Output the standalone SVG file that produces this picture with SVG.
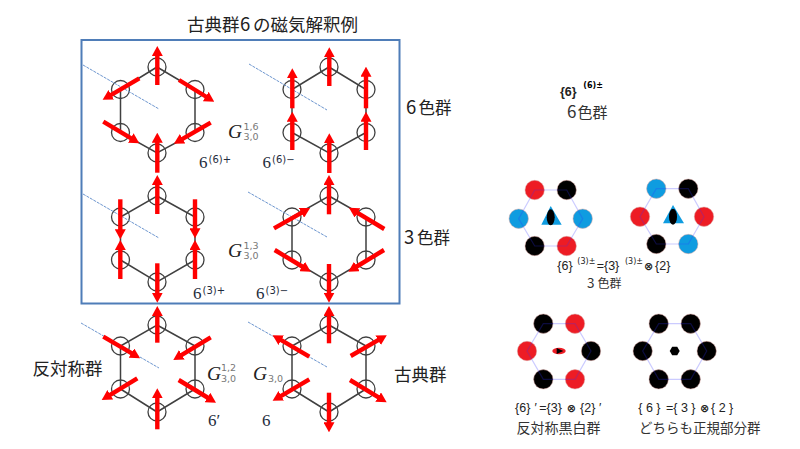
<svg xmlns="http://www.w3.org/2000/svg" width="800" height="449" viewBox="0 0 800 449">
<style>
.hex{fill:none;stroke:#404040;stroke-width:1.5}
.site{fill:none;stroke:#404040;stroke-width:1.3}
.axis{stroke:#6d96cf;stroke-width:1;stroke-dasharray:3 1}
.mag{stroke:#f00;stroke-width:4.4;fill:none;marker-end:url(#head)}
.jp{font-family:"Noto Sans CJK JP","Noto Sans",sans-serif;fill:#222}
.big{font-size:17.5px}
.sec{font-size:16.5px}
.dig{font-size:18.5px}
.mid{font-size:13.5px;fill:#333}
.math{font-family:"Liberation Serif",serif;fill:#222}
.g{font-style:italic;font-size:19.5px}
.idx{font-family:"DejaVu Sans",sans-serif;font-size:9.5px;fill:#777}
.num{font-size:17px;fill:#1f2d3d}
.sup{font-size:10px;font-family:"DejaVu Sans",sans-serif;fill:#1f2d3d}
.lab{font-family:"Liberation Sans",sans-serif;font-size:12.5px;fill:#222}
.small{font-family:"DejaVu Sans",sans-serif;font-size:8px}
.otimes{font-family:"DejaVu Sans",sans-serif;font-weight:bold;font-size:11px}
.bold{font-weight:bold}
.ring{stroke:#d9a5a0;stroke-width:.5}
.r{fill:#ed1c24}.b{fill:#0f9ce0}.k{fill:#000}
.light{fill:none;stroke:#3030ff;stroke-opacity:.25;stroke-width:1.2}
</style>
<defs>
<marker id="head" markerUnits="userSpaceOnUse" markerWidth="10" markerHeight="11" viewBox="0 0 10 11" refX="1" refY="5.5" orient="auto"><path d="M0,0 L10,5.5 L0,11z" fill="#f00"/></marker>
</defs>
<text class="jp big" x="187" y="30.5">古典群<tspan x="240" class="dig">6</tspan><tspan x="253">の磁気解釈例</tspan></text>
<rect id="frame" x="81.5" y="40" width="318" height="263.5" fill="none" stroke="#4f7db8" stroke-width="2"/>
<g id="hex1"><polygon class="hex" points="157,67 195,89.5 195,132.5 157,153 120.5,132.5 120.5,89.5"/><g class="site"><circle cx="157" cy="67" r="9"/><circle cx="195" cy="89.5" r="9"/><circle cx="195" cy="132.5" r="9"/><circle cx="157" cy="153" r="9"/><circle cx="120.5" cy="132.5" r="9"/><circle cx="120.5" cy="89.5" r="9"/></g><line class="axis" x1="83" y1="65" x2="159" y2="109"/></g>
<g id="hex2"><polygon class="hex" points="329,67 366,89.5 366,132.5 329,153 292,132.5 292,89.5"/><g class="site"><circle cx="329" cy="67" r="9"/><circle cx="366" cy="89.5" r="9"/><circle cx="366" cy="132.5" r="9"/><circle cx="329" cy="153" r="9"/><circle cx="292" cy="132.5" r="9"/><circle cx="292" cy="89.5" r="9"/></g><line class="axis" x1="249" y1="64" x2="327" y2="110"/></g>
<g id="hex3"><polygon class="hex" points="157,196 195,217 195,260 157,282 120.5,260 120.5,217"/><g class="site"><circle cx="157" cy="196" r="9"/><circle cx="195" cy="217" r="9"/><circle cx="195" cy="260" r="9"/><circle cx="157" cy="282" r="9"/><circle cx="120.5" cy="260" r="9"/><circle cx="120.5" cy="217" r="9"/></g><line class="axis" x1="83" y1="194" x2="159" y2="238"/></g>
<g id="hex4"><polygon class="hex" points="329,196 366,217 366,260 329,282 292,260 292,217"/><g class="site"><circle cx="329" cy="196" r="9"/><circle cx="366" cy="217" r="9"/><circle cx="366" cy="260" r="9"/><circle cx="329" cy="282" r="9"/><circle cx="292" cy="260" r="9"/><circle cx="292" cy="217" r="9"/></g><line class="axis" x1="248" y1="192" x2="327" y2="237"/></g>
<g id="hex5"><polygon class="hex" points="157,325 195,346 195,389 157,412 120.5,389 120.5,346"/><g class="site"><circle cx="157" cy="325" r="9"/><circle cx="195" cy="346" r="9"/><circle cx="195" cy="389" r="9"/><circle cx="157" cy="412" r="9"/><circle cx="120.5" cy="389" r="9"/><circle cx="120.5" cy="346" r="9"/></g><line class="axis" x1="81" y1="323" x2="159" y2="368"/></g>
<g id="hex6"><polygon class="hex" points="329,325 366,346 366,389 329,412 292,389 292,346"/><g class="site"><circle cx="329" cy="325" r="9"/><circle cx="366" cy="346" r="9"/><circle cx="366" cy="389" r="9"/><circle cx="329" cy="412" r="9"/><circle cx="292" cy="389" r="9"/><circle cx="292" cy="346" r="9"/></g><line class="axis" x1="248" y1="322" x2="327" y2="367"/></g>
<g id="connectors">
<line class="mag" x1="157.3" y1="85" x2="157.3" y2="55"/><line class="mag" x1="139.3" y1="78.3" x2="110.4" y2="95.3"/><line class="mag" x1="179" y1="80" x2="206.6" y2="97"/><line class="mag" x1="103.3" y1="121.7" x2="131.6" y2="138.6"/><line class="mag" x1="210.7" y1="122.7" x2="181.7" y2="139.3"/><line class="mag" x1="157.3" y1="172.7" x2="157.3" y2="141.7"/>
<line class="mag" x1="329.3" y1="86" x2="329.3" y2="56.3"/><line class="mag" x1="292.3" y1="108.3" x2="292.3" y2="77.3"/><line class="mag" x1="366" y1="108.3" x2="366" y2="75.7"/><line class="mag" x1="292.3" y1="150" x2="292.3" y2="120.7"/><line class="mag" x1="366" y1="150" x2="366" y2="120.7"/><line class="mag" x1="329.3" y1="173" x2="329.3" y2="142.3"/>
<line class="mag" x1="157.3" y1="214" x2="157.3" y2="184"/><line class="mag" x1="120.3" y1="199.3" x2="120.3" y2="230.3"/><line class="mag" x1="195" y1="199.3" x2="195" y2="229.3"/><line class="mag" x1="120.3" y1="279" x2="120.3" y2="249"/><line class="mag" x1="195" y1="279" x2="195" y2="249"/><line class="mag" x1="157.3" y1="263.3" x2="157.3" y2="293.7"/>
<line class="mag" x1="329" y1="214.3" x2="329" y2="184"/><line class="mag" x1="274" y1="228.3" x2="302.3" y2="212.4"/><line class="mag" x1="384.3" y1="229" x2="356.7" y2="212.4"/><line class="mag" x1="274.7" y1="250" x2="303" y2="267"/><line class="mag" x1="384" y1="250" x2="356" y2="267"/><line class="mag" x1="329" y1="264" x2="329" y2="293.7"/>
<line class="mag" x1="157.3" y1="342.7" x2="157.3" y2="315"/><line class="mag" x1="103.3" y1="336.7" x2="132.3" y2="353.6"/><line class="mag" x1="210.7" y1="337.3" x2="181" y2="355.3"/><line class="mag" x1="137.3" y1="378.3" x2="109.4" y2="395.3"/><line class="mag" x1="178.7" y1="380" x2="208.3" y2="398"/><line class="mag" x1="157.3" y1="429.3" x2="157.3" y2="397.3"/>
<line class="mag" x1="329" y1="343.3" x2="329" y2="315"/><line class="mag" x1="309.3" y1="356.7" x2="280.4" y2="339.7"/><line class="mag" x1="350.7" y1="356" x2="379" y2="339.7"/><line class="mag" x1="309.3" y1="379.3" x2="280.4" y2="396.3"/><line class="mag" x1="350" y1="380" x2="379" y2="397.6"/><line class="mag" x1="329" y1="392.7" x2="329" y2="423.3"/>
</g>
<g id="math-labels">
<text class="math g" x="228" y="138">G</text><text class="idx" x="243.5" y="129.5">1,6</text><text class="idx" x="243.5" y="140">3,0</text>
<text class="math g" x="228" y="257">G</text><text class="idx" x="243.5" y="248.5">1,3</text><text class="idx" x="243.5" y="259">3,0</text>
<text class="math g" x="207" y="380">G</text><text class="idx" x="221" y="370.5">1,2</text><text class="idx" x="221" y="381.5">3,0</text>
<text class="math g" x="253" y="380">G</text><text class="idx" x="268" y="381.5">3,0</text>
<text class="math num" x="199" y="168">6</text><text class="sup" x="208.5" y="163">(6)+</text>
<text class="math num" x="262.5" y="168">6</text><text class="sup" x="272" y="163">(6)−</text>
<text class="math num" x="193" y="299">6</text><text class="sup" x="202.5" y="294">(3)+</text>
<text class="math num" x="256" y="299">6</text><text class="sup" x="265.5" y="294">(3)−</text>
<text class="math num" x="208" y="426">6′</text><text class="math num" x="262" y="426">6</text>
</g>
<g id="group-labels">
<text class="jp sec" x="406" y="114"><tspan class="dig">6</tspan><tspan x="418.5">色群</tspan></text>
<text class="jp sec" x="404" y="244"><tspan class="dig">3</tspan><tspan x="417">色群</tspan></text>
<text class="jp big" x="32.5" y="375">反対称群</text>
<text class="jp big" x="394" y="381">古典群</text>
</g>
<g id="right-top">
<text class="lab bold" x="560" y="96">{6}</text><text class="small bold" x="583.3" y="88">(6)±</text>
<text class="jp mid" x="567" y="118" style="font-size:15px"><tspan style="font-size:17px">6</tspan><tspan x="577.5">色群</tspan></text>
</g>
<g id="net-a"><g class="ring"><circle class="r" cx="534.7" cy="190" r="9.7"/><circle class="k" cx="566.7" cy="190" r="9.7"/><circle class="b" cx="518.7" cy="218.7" r="9.7"/><circle class="b" cx="582.7" cy="218.7" r="9.7"/><circle class="k" cx="534.7" cy="246" r="9.7"/><circle class="r" cx="566.7" cy="246" r="9.7"/></g><polygon class="light" points="534.7,190 566.7,190 582.7,218.7 566.7,246 534.7,246 518.7,218.7"/><polygon class="b" points="550.7,206 541.3,224.7 561.7,224.7"/><ellipse class="k" cx="550.7" cy="217.3" rx="4" ry="8"/></g>
<g id="net-b"><g class="ring"><circle class="b" cx="656.3" cy="188.7" r="9.7"/><circle class="k" cx="688.3" cy="188.7" r="9.7"/><circle class="r" cx="640" cy="216.7" r="9.7"/><circle class="r" cx="704" cy="216.7" r="9.7"/><circle class="k" cx="656.3" cy="244" r="9.7"/><circle class="b" cx="688.3" cy="244" r="9.7"/></g><polygon class="light" points="656.3,188.7 688.3,188.7 704,216.7 688.3,244 656.3,244 640,216.7"/><polygon class="b" points="673,205 663,223.3 684,223.3"/><ellipse class="k" cx="673" cy="216.7" rx="4" ry="8"/></g>
<g id="net-c"><g class="ring"><circle class="k" cx="543.3" cy="323.7" r="9.7"/><circle class="r" cx="575" cy="323.7" r="9.7"/><circle class="r" cx="527" cy="351" r="9.7"/><circle class="k" cx="591" cy="351" r="9.7"/><circle class="k" cx="543.3" cy="379.3" r="9.7"/><circle class="r" cx="575" cy="379.3" r="9.7"/></g><polygon class="light" points="543.3,323.7 575,323.7 591,351 575,379.3 543.3,379.3 527,351"/><ellipse class="r" cx="559" cy="351" rx="6.7" ry="3.2"/><polygon class="k" points="556.7,348 556.7,354 563.3,351"/></g>
<g id="net-d"><g class="ring"><circle class="k" cx="658.7" cy="323.7" r="9.7"/><circle class="k" cx="690.7" cy="323.7" r="9.7"/><circle class="k" cx="642.7" cy="351" r="9.7"/><circle class="k" cx="706.7" cy="351" r="9.7"/><circle class="k" cx="658.7" cy="379.3" r="9.7"/><circle class="k" cx="690.7" cy="379.3" r="9.7"/></g><polygon class="light" points="658.7,323.7 690.7,323.7 706.7,351 690.7,379.3 658.7,379.3 642.7,351"/><polygon class="k" points="679.7,351 677.2,355.3 672.2,355.3 669.7,351 672.2,346.7 677.2,346.7"/></g>
<g id="right-labels">
<text class="lab" x="557.3" y="270">{6}<tspan x="577.3" y="263.5" class="small">(3)±</tspan><tspan x="596.7" y="270">={3}</tspan><tspan x="625" y="263.5" class="small">(3)±</tspan><tspan x="644" y="270" class="otimes">⊗</tspan><tspan x="655" y="270">{2}</tspan></text>
<text class="jp mid" x="587" y="288" style="font-size:12px"><tspan style="font-size:13.5px">3</tspan><tspan x="597.5">色群</tspan></text>
<text class="lab" x="515" y="412">{6}<tspan x="534.5">′</tspan><tspan x="539.3">={3}</tspan><tspan x="566.7" class="otimes">⊗</tspan><tspan x="580">{2}</tspan><tspan x="599">′</tspan></text>
<text class="jp mid" x="516.5" y="433" style="font-size:14px">反対称黒白群</text>
<text class="lab" x="638.3" y="412">{ 6 }<tspan x="666">={ 3 }</tspan><tspan x="700" class="otimes">⊗</tspan><tspan x="711">{ 2 }</tspan></text>
<text class="jp mid" x="639" y="433">どちらも正規部分群</text>
</g>
</svg>
